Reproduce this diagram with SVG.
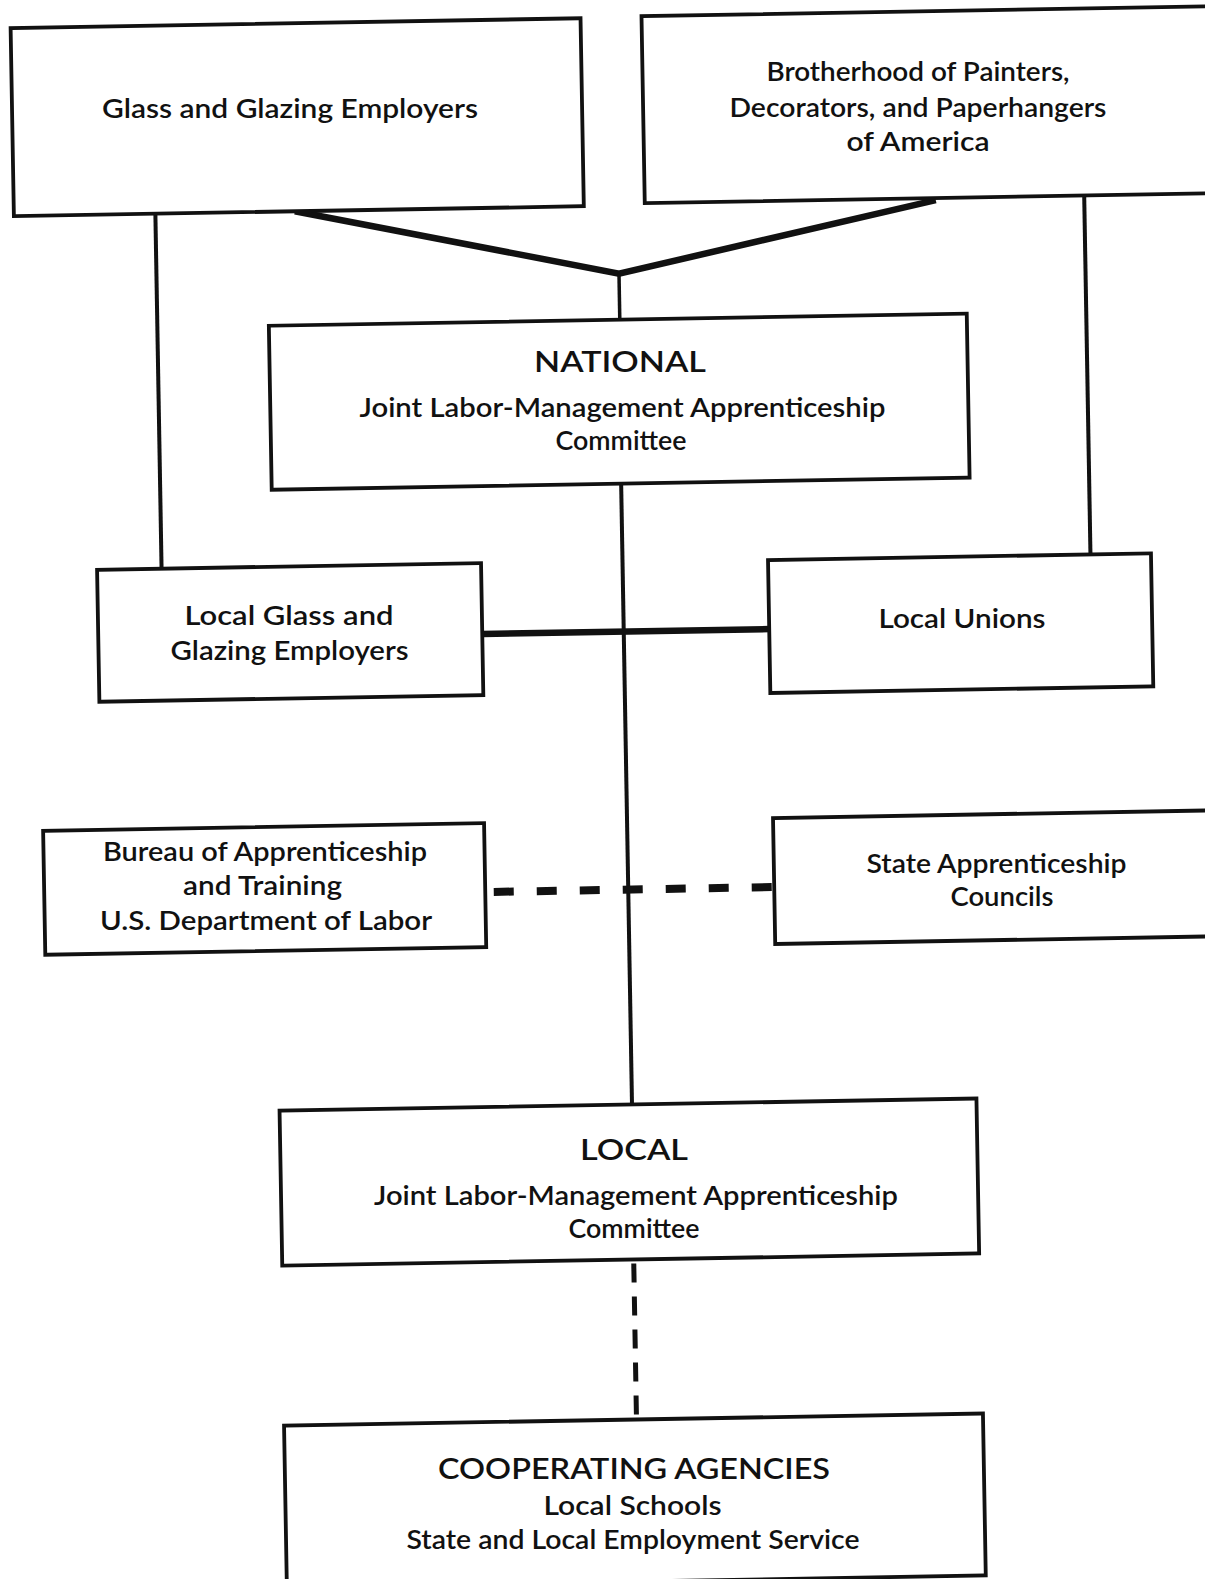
<svg xmlns="http://www.w3.org/2000/svg" width="1205" height="1579" viewBox="0 0 1205 1579">
<style>
.box{fill:#fff;stroke:#111;stroke-width:3.8}
.ln{fill:none;stroke:#111;stroke-linecap:butt}
.t{font-family:Lato,"Open Sans","Liberation Sans",sans-serif;font-size:26px;font-weight:600;text-anchor:middle;fill:#111}
.h{font-size:28px}
</style>
<rect width="1205" height="1579" fill="#fff"/>
<g transform="rotate(-1 602 790)">
<g id="connectors">
<polyline class="ln" points="305,206 628,274 946,206" stroke-width="6.5" stroke-linejoin="miter"/>
<line class="ln" x1="628" y1="274" x2="628" y2="321" stroke-width="3.5"/>
<line class="ln" x1="165.5" y1="206" x2="165.5" y2="561" stroke-width="4"/>
<line class="ln" x1="1094.5" y1="204" x2="1094.5" y2="563" stroke-width="4"/>
<line class="ln" x1="626.5" y1="484" x2="626.5" y2="1105" stroke-width="4"/>
<line class="ln" x1="485" y1="632" x2="772" y2="632" stroke-width="6.5"/>
<line class="ln" x1="492" y1="890" x2="770" y2="890" stroke-width="8" stroke-dasharray="20 23" stroke-linecap="round"/>
<line class="ln" x1="625.5" y1="1264" x2="625.5" y2="1418" stroke-width="5" stroke-dasharray="19 14" stroke-linecap="round"/>
</g>
<g id="glass-employers-box"><rect class="box" x="24" y="18" width="570" height="188"/></g>
<g id="brotherhood-box"><rect class="box" x="655" y="17" width="575" height="187"/></g>
<g id="national-box"><rect class="box" x="277" y="320" width="698" height="164"/></g>
<g id="local-glass-box"><rect class="box" x="101" y="561" width="384" height="132"/></g>
<g id="local-unions-box"><rect class="box" x="772" y="563" width="383" height="133"/></g>
<g id="bureau-box"><rect class="box" x="42.5" y="821" width="441" height="124"/></g>
<g id="state-councils-box"><rect class="box" x="772.5" y="821" width="460" height="126"/></g>
<g id="local-box"><rect class="box" x="274" y="1105" width="697" height="155"/></g>
<g id="cooperating-box"><rect class="box" x="273" y="1420" width="699" height="162"/></g>
</g>
<g id="glass-employers">
<text class="t" x="290" y="118" textLength="376" lengthAdjust="spacingAndGlyphs">Glass and Glazing Employers</text>
</g>
<g id="brotherhood">
<text class="t" x="918" y="80.5" textLength="303" lengthAdjust="spacingAndGlyphs">Brotherhood of Painters,</text>
<text class="t" x="918" y="116.5" textLength="377" lengthAdjust="spacingAndGlyphs">Decorators, and Paperhangers</text>
<text class="t" x="918" y="150.5" textLength="143" lengthAdjust="spacingAndGlyphs">of America</text>
</g>
<g id="national">
<text class="t h" x="620" y="371.5" textLength="172" lengthAdjust="spacingAndGlyphs">NATIONAL</text>
<text class="t" x="622.5" y="417" textLength="526" lengthAdjust="spacingAndGlyphs">Joint Labor-Management Apprenticeship</text>
<text class="t" x="621" y="450" textLength="131" lengthAdjust="spacingAndGlyphs">Committee</text>
</g>
<g id="local-glass">
<text class="t" x="289" y="625" textLength="209" lengthAdjust="spacingAndGlyphs">Local Glass and</text>
<text class="t" x="289.5" y="660" textLength="238" lengthAdjust="spacingAndGlyphs">Glazing Employers</text>
</g>
<g id="local-unions">
<text class="t" x="962" y="628" textLength="167" lengthAdjust="spacingAndGlyphs">Local Unions</text>
</g>
<g id="bureau">
<text class="t" x="265" y="861" textLength="324" lengthAdjust="spacingAndGlyphs">Bureau of Apprenticeship</text>
<text class="t" x="262.5" y="895" textLength="159" lengthAdjust="spacingAndGlyphs">and Training</text>
<text class="t" x="266" y="930" textLength="332" lengthAdjust="spacingAndGlyphs">U.S. Department of Labor</text>
</g>
<g id="state-councils">
<text class="t" x="996.5" y="872.5" textLength="260" lengthAdjust="spacingAndGlyphs">State Apprenticeship</text>
<text class="t" x="1002" y="905.5" textLength="103" lengthAdjust="spacingAndGlyphs">Councils</text>
</g>
<g id="local">
<text class="t h" x="634" y="1160" textLength="108" lengthAdjust="spacingAndGlyphs">LOCAL</text>
<text class="t" x="636" y="1204.5" textLength="524" lengthAdjust="spacingAndGlyphs">Joint Labor-Management Apprenticeship</text>
<text class="t" x="634" y="1237.5" textLength="131" lengthAdjust="spacingAndGlyphs">Committee</text>
</g>
<g id="cooperating">
<text class="t h" x="634" y="1478.5" textLength="392" lengthAdjust="spacingAndGlyphs">COOPERATING AGENCIES</text>
<text class="t" x="632.5" y="1514.5" textLength="178" lengthAdjust="spacingAndGlyphs">Local Schools</text>
<text class="t" x="633" y="1548.5" textLength="453" lengthAdjust="spacingAndGlyphs">State and Local Employment Service</text>
</g>
</svg>
